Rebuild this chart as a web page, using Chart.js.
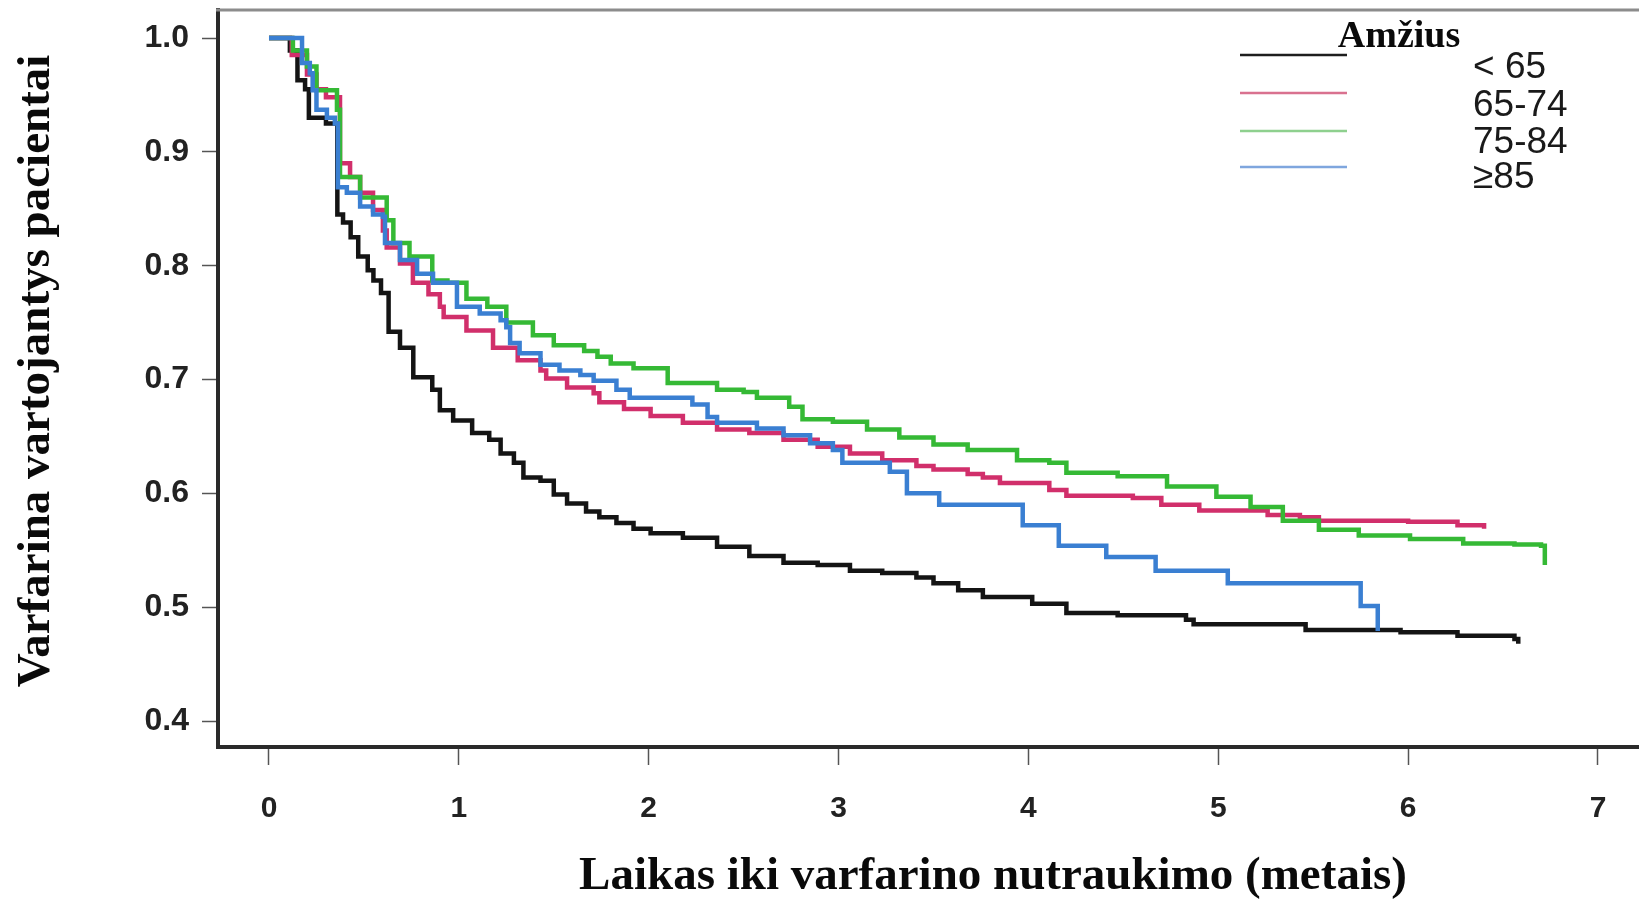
<!DOCTYPE html>
<html><head><meta charset="utf-8">
<script src="https://cdn.jsdelivr.net/npm/chart.js@4/dist/chart.umd.min.js"></script>
<style>html,body{margin:0;padding:0;background:#fff;overflow:hidden}canvas{display:block}</style>
</head><body>
<canvas id="c" width="1639" height="899"></canvas>
<script>
// ---- data ----
const seriesNames = ['< 65', '65-74', '75-84', '\u226585'];
const legendTitle = 'Amžius';
const xTitle = 'Laikas iki varfarino nutraukimo (metais)';
const yTitle = 'Varfarina vartojantys pacientai';
const xTickValues = [0, 1, 2, 3, 4, 5, 6, 7];
const yTickValues = [0.4, 0.5, 0.6, 0.7, 0.8, 0.9, 1.0];

const timeLt65 = [0, 0.11, 0.15, 0.19, 0.21, 0.30, 0.36, 0.39, 0.43, 0.47, 0.52, 0.55, 0.59, 0.63, 0.69, 0.76, 0.86, 0.90, 0.97, 1.07, 1.16, 1.22, 1.29, 1.34, 1.43, 1.50, 1.57, 1.67, 1.74, 1.83, 1.92, 2.01, 2.18, 2.36, 2.53, 2.71, 2.89, 3.06, 3.23, 3.41, 3.50, 3.63, 3.76, 4.02, 4.20, 4.47, 4.83, 4.87, 5.46, 5.96, 6.26, 6.56, 6.58];
const survLt65 = [1.0, 0.989, 0.963, 0.955, 0.930, 0.925, 0.845, 0.838, 0.825, 0.808, 0.796, 0.787, 0.776, 0.742, 0.728, 0.702, 0.691, 0.673, 0.664, 0.653, 0.647, 0.635, 0.627, 0.614, 0.611, 0.599, 0.591, 0.584, 0.579, 0.574, 0.569, 0.565, 0.561, 0.553, 0.545, 0.539, 0.537, 0.532, 0.530, 0.526, 0.521, 0.515, 0.509, 0.503, 0.495, 0.493, 0.489, 0.485, 0.480, 0.478, 0.475, 0.472, 0.468];

const time65to74 = [0, 0.12, 0.20, 0.25, 0.30, 0.374, 0.427, 0.48, 0.548, 0.60, 0.62, 0.69, 0.758, 0.84, 0.90, 0.92, 1.04, 1.18, 1.31, 1.43, 1.46, 1.57, 1.71, 1.74, 1.87, 2.01, 2.18, 2.36, 2.53, 2.71, 2.89, 3.06, 3.23, 3.41, 3.50, 3.68, 3.76, 3.85, 4.11, 4.20, 4.55, 4.70, 4.90, 5.26, 5.43, 5.53, 6.00, 6.26, 6.40];
const surv65to74 = [1.0, 0.985, 0.968, 0.955, 0.948, 0.890, 0.878, 0.864, 0.849, 0.831, 0.816, 0.802, 0.785, 0.775, 0.764, 0.755, 0.743, 0.728, 0.717, 0.708, 0.701, 0.693, 0.688, 0.680, 0.674, 0.668, 0.662, 0.656, 0.653, 0.647, 0.641, 0.635, 0.629, 0.624, 0.621, 0.617, 0.614, 0.609, 0.603, 0.598, 0.596, 0.590, 0.585, 0.581, 0.579, 0.576, 0.575, 0.572, 0.569];

const time75to84 = [0, 0.126, 0.20, 0.25, 0.358, 0.374, 0.48, 0.62, 0.655, 0.74, 0.86, 0.94, 1.04, 1.15, 1.25, 1.39, 1.50, 1.66, 1.73, 1.80, 1.92, 2.10, 2.36, 2.50, 2.57, 2.74, 2.81, 2.97, 3.15, 3.32, 3.50, 3.68, 3.94, 4.11, 4.20, 4.47, 4.73, 4.99, 5.17, 5.34, 5.53, 5.74, 6.01, 6.29, 6.56, 6.70, 6.72];
const surv75to84 = [1.0, 0.989, 0.975, 0.954, 0.937, 0.878, 0.860, 0.840, 0.820, 0.808, 0.787, 0.785, 0.771, 0.764, 0.750, 0.739, 0.730, 0.725, 0.720, 0.714, 0.710, 0.697, 0.691, 0.689, 0.684, 0.676, 0.665, 0.663, 0.656, 0.649, 0.643, 0.638, 0.629, 0.627, 0.618, 0.615, 0.606, 0.597, 0.588, 0.576, 0.568, 0.563, 0.560, 0.556, 0.555, 0.554, 0.537];

const time85plus = [0, 0.174, 0.215, 0.23, 0.25, 0.305, 0.347, 0.363, 0.41, 0.48, 0.548, 0.60, 0.611, 0.69, 0.78, 0.864, 0.99, 1.11, 1.22, 1.25, 1.27, 1.32, 1.43, 1.53, 1.64, 1.71, 1.83, 1.90, 2.23, 2.31, 2.36, 2.57, 2.71, 2.85, 2.97, 3.02, 3.27, 3.36, 3.53, 3.97, 4.16, 4.41, 4.67, 5.05, 5.75, 5.84];
const surv85plus = [1.0, 0.978, 0.969, 0.954, 0.937, 0.930, 0.925, 0.869, 0.864, 0.852, 0.845, 0.843, 0.820, 0.805, 0.793, 0.785, 0.764, 0.758, 0.752, 0.746, 0.732, 0.723, 0.713, 0.708, 0.704, 0.699, 0.691, 0.684, 0.678, 0.667, 0.662, 0.657, 0.651, 0.644, 0.638, 0.627, 0.619, 0.600, 0.590, 0.572, 0.554, 0.544, 0.532, 0.521, 0.501, 0.479];

const lineColors = ['#141414', '#d12f6b', '#35b935', '#3a7fd2'];
const legendColors = ['#1e1e1e', '#d9718f', '#8ed08e', '#7fa6de'];

// ---- build datasets ----
const pairs = (t, s) => t.map((x, i) => ({x: x, y: s[i]}));
const seriesData = [pairs(timeLt65, survLt65), pairs(time65to74, surv65to74), pairs(time75to84, surv75to84), pairs(time85plus, surv85plus)];
const drawOrder = [3, 2, 1, 0];
const datasets = seriesData.map((d, i) => ({
  label: seriesNames[i], data: d, borderColor: lineColors[i], borderWidth: 4.5,
  stepped: 'before', pointRadius: 0, fill: false, order: drawOrder[i],
  borderJoinStyle: 'miter', borderCapStyle: 'butt'
}));

const noPad = s => { s.paddingTop = 0; s.paddingBottom = 0; s.paddingLeft = 0; s.paddingRight = 0; };

const decor = {
  id: 'decor',
  afterDraw(chart) {
    const ctx = chart.ctx, a = chart.chartArea;
    ctx.save();
    // top frame line
    ctx.strokeStyle = '#8c8c8c'; ctx.lineWidth = 3;
    ctx.beginPath(); ctx.moveTo(a.left - 2, a.top); ctx.lineTo(chart.width, a.top); ctx.stroke();
    // axis titles
    ctx.fillStyle = '#0a0a0a';
    ctx.font = 'bold 47px "Liberation Serif", "Times New Roman", serif';
    ctx.textAlign = 'center'; ctx.textBaseline = 'alphabetic';
    ctx.fillText(xTitle, 993, 889);
    ctx.save(); ctx.translate(49, 371); ctx.rotate(-Math.PI / 2);
    ctx.fillText(yTitle, 0, 0); ctx.restore();
    // legend
    ctx.font = 'bold 38px "Liberation Serif", "Times New Roman", serif';
    ctx.fillText(legendTitle, 1399, 47);
    const ly = [55, 93, 131, 167], ty = [78, 116, 153, 188];
    ctx.lineWidth = 2.5;
    ctx.font = '37px "Liberation Sans", Arial, sans-serif';
    ctx.textAlign = 'left';
    for (let i = 0; i < 4; i++) {
      ctx.strokeStyle = legendColors[i];
      ctx.beginPath(); ctx.moveTo(1240, ly[i]); ctx.lineTo(1347, ly[i]); ctx.stroke();
      ctx.fillStyle = '#1a1a1a';
      ctx.fillText(seriesNames[i], 1473, ty[i]);
    }
    ctx.restore();
  }
};

new Chart(document.getElementById('c'), {
  type: 'line',
  data: {datasets},
  plugins: [decor],
  options: {
    responsive: false, animation: false, devicePixelRatio: 1,
    layout: {padding: {top: 10, left: 0, right: 0, bottom: 0}},
    plugins: {legend: {display: false}, tooltip: {enabled: false}, title: {display: false}},
    scales: {
      x: {
        type: 'linear', min: -0.2686, max: 7.216,
        afterBuildTicks: s => { s.ticks = xTickValues.map(v => ({value: v})); },
        afterFit: s => { s.height = 152; noPad(s); },
        ticks: {color: '#222', font: {family: '"Liberation Sans", Arial, sans-serif', size: 30, weight: 'bold'}, padding: 26, maxRotation: 0, autoSkip: false, callback: v => String(v)},
        grid: {drawOnChartArea: false, drawTicks: true, tickLength: 18, tickColor: '#555', tickWidth: 1.5},
        border: {display: true, color: '#2a2a2a', width: 4}
      },
      y: {
        type: 'linear', min: 0.3772, max: 1.0246,
        afterBuildTicks: s => { s.ticks = yTickValues.map(v => ({value: v})); },
        afterFit: s => { s.width = 218; noPad(s); },
        ticks: {color: '#222', font: {family: '"Liberation Sans", Arial, sans-serif', size: 32, weight: 'bold'}, padding: 13, autoSkip: false, callback: v => Number(v).toFixed(1)},
        grid: {drawOnChartArea: false, drawTicks: true, tickLength: 16, tickColor: '#555', tickWidth: 1.5},
        border: {display: true, color: '#2a2a2a', width: 4}
      }
    }
  }
});
</script>
</body></html>
